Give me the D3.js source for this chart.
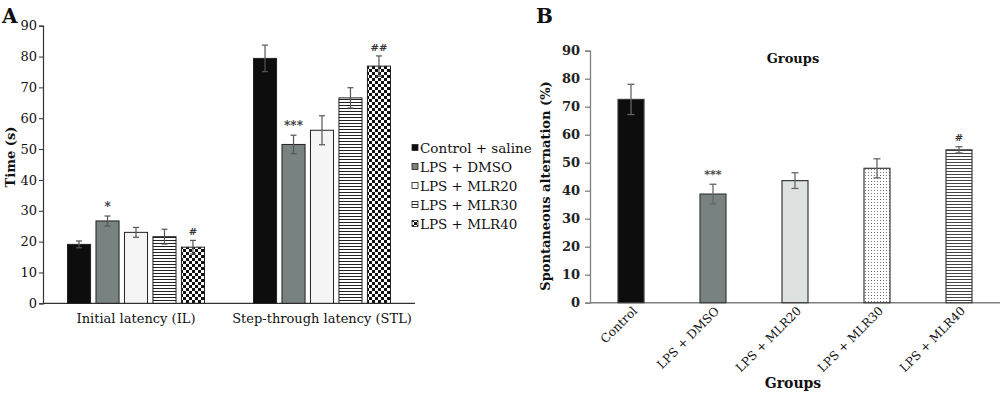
<!DOCTYPE html>
<html><head><meta charset="utf-8">
<script src="https://cdn.jsdelivr.net/npm/d3@7"></script>
<style>
body{margin:0;background:#fff;}
svg{display:block;font-family:"DejaVu Serif","Liberation Serif",serif;}
</style></head>
<body>
<svg id="c" width="1000" height="395"></svg>
<script>
// ---------- data ----------
const groupsA = ["Initial latency (IL)", "Step-through latency (STL)"];
const seriesA = ["Control + saline", "LPS + DMSO", "LPS + MLR20", "LPS + MLR30", "LPS + MLR40"];
const ilMean = [19.1, 26.7, 23.0, 21.6, 18.2];
const ilErr  = [1.1, 1.6, 1.6, 2.4, 2.2];
const stlMean = [79.4, 51.5, 56.1, 66.6, 76.9];
const stlErr  = [4.3, 3.0, 4.7, 3.3, 3.3];
const ilSig  = ["", "*", "", "", "#"];
const stlSig = ["", "***", "", "", "##"];
const ticksA = [0, 10, 20, 30, 40, 50, 60, 70, 80, 90];

const groupsB = ["Control", "LPS + DMSO", "LPS + MLR20", "LPS + MLR30", "LPS + MLR40"];
const altMean = [72.6, 38.8, 43.6, 48.0, 54.6];
const altErr  = [5.4, 3.5, 2.8, 3.4, 1.1];
const altSig  = ["", "***", "", "", "#"];
const ticksB = [0, 10, 20, 30, 40, 50, 60, 70, 80, 90];

const svg = d3.select("#c");
const defs = svg.append("defs");

// patterns
function stripes(id, color, gap){
  const p = defs.append("pattern").attr("id", id).attr("patternUnits","userSpaceOnUse")
    .attr("width", 6).attr("height", gap);
  p.append("rect").attr("width",6).attr("height",gap).attr("fill","#fff");
  p.append("rect").attr("y",0).attr("width",6).attr("height",1).attr("fill",color);
}
stripes("stripeA", "#222", 3);
stripes("stripeB", "#444", 3);
{
  const p = defs.append("pattern").attr("id","checkA").attr("patternUnits","userSpaceOnUse")
    .attr("width",6).attr("height",6);
  p.append("rect").attr("width",6).attr("height",6).attr("fill","#fff");
  p.append("rect").attr("width",3).attr("height",3).attr("fill","#111");
  p.append("rect").attr("x",3).attr("y",3).attr("width",3).attr("height",3).attr("fill","#111");
}
{
  const p = defs.append("pattern").attr("id","dotB").attr("patternUnits","userSpaceOnUse")
    .attr("width",3).attr("height",3);
  p.append("rect").attr("width",3).attr("height",3).attr("fill","#fff");
  p.append("rect").attr("x",1).attr("y",1).attr("width",1).attr("height",1).attr("fill","#777");
}
const fillsA = ["#0d0d0d", "#778281", "#f5f5f5", "url(#stripeA)", "url(#checkA)"];
const fillsB = ["#0d0d0d", "#778281", "#dde2e1", "url(#dotB)", "url(#stripeB)"];

// ---------- Panel A ----------
const A = {x0: 43, x1: 415, y0: 303.3, y1: 25.7};
const yA = d3.scaleLinear().domain([0, 90]).range([A.y0, A.y1]);
const x0A = d3.scaleBand().domain(groupsA).range([A.x0, A.x1]).padding(0);
const x1A = d3.scaleBand().domain(seriesA).range([0, x0A.bandwidth()]).paddingInner(0.19).paddingOuter(0.86);

const gA = svg.append("g");
const yAxA = gA.append("g").attr("transform", `translate(${A.x0},0)`)
  .call(d3.axisLeft(yA).tickValues(ticksA).tickSize(4).tickPadding(2));
yAxA.select(".domain").attr("stroke","#333").attr("stroke-width",1.2);
yAxA.selectAll(".tick line").attr("stroke","#333");
yAxA.selectAll(".tick text").attr("font-size",13).attr("fill","#111").attr("font-family","DejaVu Serif");

gA.append("line").attr("x1",A.x0).attr("x2",A.x1).attr("y1",A.y0).attr("y2",A.y0)
  .attr("stroke","#333").attr("stroke-width",1.2);

const dataA = [
  {g: groupsA[0], m: ilMean, e: ilErr, s: ilSig},
  {g: groupsA[1], m: stlMean, e: stlErr, s: stlSig}
];
dataA.forEach(gr => {
  seriesA.forEach((s, i) => {
    const x = x0A(gr.g) + x1A(s), w = x1A.bandwidth();
    const v = gr.m[i], e = gr.e[i];
    gA.append("rect").attr("x", x).attr("y", yA(v)).attr("width", w).attr("height", A.y0 - yA(v))
      .attr("fill", fillsA[i]).attr("stroke", "#222").attr("stroke-width", 1);
    const cx = x + w/2;
    gA.append("line").attr("x1",cx).attr("x2",cx).attr("y1",yA(v+e)).attr("y2",yA(v-e)).attr("stroke","#555").attr("stroke-width",1.2);
    [v+e, v-e].forEach(t => gA.append("line").attr("x1",cx-3).attr("x2",cx+3).attr("y1",yA(t)).attr("y2",yA(t)).attr("stroke","#555").attr("stroke-width",1.2));
    if (gr.s[i]) {
      gA.append("text").attr("x", cx).attr("y", yA(v+e) - 5).attr("text-anchor","middle")
        .attr("font-size", gr.s[i].startsWith("#") ? 10 : 12).attr("fill","#333").attr("font-weight", "bold").text(gr.s[i]);
    }
  });
  gA.append("text").attr("x", x0A(gr.g) + x0A.bandwidth()/2).attr("y", 323).attr("text-anchor","middle")
    .attr("font-size", 13).attr("fill","#111").text(gr.g);
});

gA.append("text").attr("transform","translate(15,157) rotate(-90)").attr("text-anchor","middle")
  .attr("font-size",13).attr("font-weight","bold").attr("fill","#111").text("Time (s)");
gA.append("text").attr("x",2).attr("y",23).attr("font-size",20).attr("font-weight","bold").attr("fill","#111").text("A");

// legend
const lg = gA.append("g");
seriesA.forEach((s, i) => {
  const y = 147.5 + i * 19;
  lg.append("rect").attr("x", 412).attr("y", y - 3).attr("width", 6).attr("height", 6)
    .attr("fill", fillsA[i]).attr("stroke","#222").attr("stroke-width",0.8);
  lg.append("text").attr("x", 420).attr("y", y + 5).attr("font-size",13.5).attr("fill","#111").text(s);
});

// ---------- Panel B ----------
const B = {x0: 590, x1: 1000, y0: 302.7, y1: 50.7};
const yB = d3.scaleLinear().domain([0, 90]).range([B.y0, B.y1]);
const xB = d3.scaleBand().domain(groupsB).range([B.x0, B.x1]).paddingInner(0.683).paddingOuter(0.3415);
const gB = svg.append("g");
const yAxB = gB.append("g").attr("transform", `translate(${B.x0},0)`)
  .call(d3.axisLeft(yB).tickValues(ticksB).tickSize(5).tickPadding(5));
yAxB.select(".domain").attr("stroke","#808080").attr("stroke-width",1.3);
yAxB.selectAll(".tick line").attr("stroke","#808080").attr("stroke-width",1.3);
yAxB.selectAll(".tick text").attr("font-size",13).attr("font-weight","bold").attr("fill","#222").attr("font-family","DejaVu Serif");
gB.append("line").attr("x1",B.x0).attr("x2",B.x1).attr("y1",B.y0).attr("y2",B.y0).attr("stroke","#808080").attr("stroke-width",1.5);

groupsB.forEach((g, i) => {
  const x = xB(g), w = xB.bandwidth(), v = altMean[i], e = altErr[i], cx = x + w/2;
  gB.append("rect").attr("x", x).attr("y", yB(v)).attr("width", w).attr("height", B.y0 - yB(v))
    .attr("fill", fillsB[i]).attr("stroke","#3a3a3a").attr("stroke-width",1.2);
  gB.append("line").attr("x1",cx).attr("x2",cx).attr("y1",yB(v+e)).attr("y2",yB(v-e)).attr("stroke","#666").attr("stroke-width",1.3);
  [v+e, v-e].forEach(t => gB.append("line").attr("x1",cx-3.5).attr("x2",cx+3.5).attr("y1",yB(t)).attr("y2",yB(t)).attr("stroke","#666").attr("stroke-width",1.3));
  if (altSig[i]) {
    gB.append("text").attr("x", cx).attr("y", yB(v+e) - 6).attr("text-anchor","middle")
      .attr("font-size", altSig[i].startsWith("#") ? 10 : 11).attr("font-weight","bold").attr("fill","#333").text(altSig[i]);
  }
  gB.append("text").attr("transform", `translate(${cx + 4},${B.y0 + 6}) rotate(-45)`)
    .attr("text-anchor","end").attr("dy","0.35em").attr("font-size",12).attr("fill","#111").text(g);
});

gB.append("text").attr("transform","translate(550,186) rotate(-90)").attr("text-anchor","middle")
  .attr("font-size",13).attr("font-weight","bold").attr("fill","#111").text("Spontaneous alternation (%)");
gB.append("text").attr("x",793).attr("y",63).attr("text-anchor","middle").attr("font-size",13).attr("font-weight","bold").attr("fill","#111").text("Groups");
gB.append("text").attr("x",793).attr("y",388).attr("text-anchor","middle").attr("font-size",14).attr("font-weight","bold").attr("fill","#111").text("Groups");
gB.append("text").attr("x",536).attr("y",23).attr("font-size",20).attr("font-weight","bold").attr("fill","#111").text("B");
</script>
</body></html>
